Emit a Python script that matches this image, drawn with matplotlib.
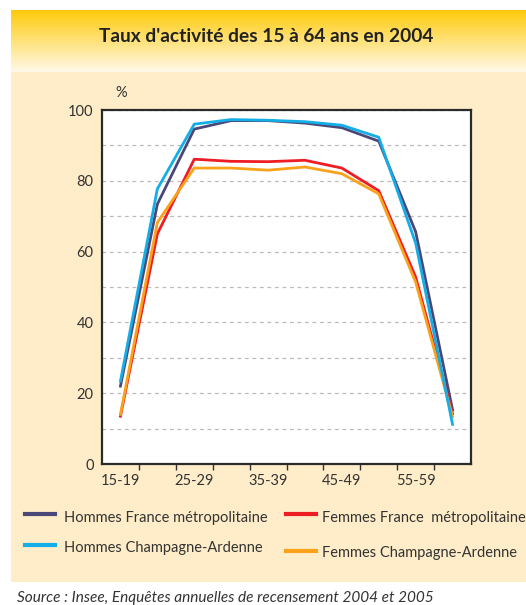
import numpy as np
import matplotlib
matplotlib.use("Agg")
import matplotlib.pyplot as plt
from matplotlib.colors import LinearSegmentedColormap

# ---- data ----
categories = ["15-19", "20-24", "25-29", "30-34", "35-39",
              "40-44", "45-49", "50-54", "55-59", "60-64"]
hommes_france = [22.0, 73.4, 94.6, 97.0, 97.0, 96.3, 95.0, 91.2, 65.6, 15.3]
hommes_ca = [23.4, 77.7, 96.0, 97.3, 97.1, 96.7, 95.7, 92.3, 62.4, 11.2]
femmes_france = [13.5, 65.0, 86.1, 85.5, 85.4, 85.8, 83.6, 77.2, 52.8, 14.2]
femmes_ca = [14.0, 68.2, 83.6, 83.6, 83.0, 83.9, 82.0, 76.3, 51.4, 13.4]
series_labels = ["Hommes France métropolitaine", "Femmes France  métropolitaine",
                 "Hommes Champagne-Ardenne", "Femmes Champagne-Ardenne"]
title = "Taux d'activité des 15 à 64 ans en 2004"
source = "Source : Insee, Enquêtes annuelles de recensement 2004 et 2005"

C_HF = "#4a4879"
C_HC = "#14aee6"
C_FF = "#ee1c25"
C_FC = "#f9a21b"
TXT = "#333333"
CREAM = "#feedc8"

W, H = 526, 605
fig = plt.figure(figsize=(W / 100, H / 100), dpi=100)
fig.patch.set_facecolor("white")

def fx(px):
    return px / W

def fy(py):
    return 1 - py / H

# cream panel
bg = fig.add_axes([fx(11), fy(582), fx(526 - 11), (582 - 10) / H])
bg.set_facecolor(CREAM)
bg.set_xticks([]); bg.set_yticks([])
for s in bg.spines.values():
    s.set_visible(False)

# gradient title band
gax = fig.add_axes([fx(11), fy(72), fx(526 - 11), (72 - 10) / H])
cmap = LinearSegmentedColormap.from_list("g", ["#ffca0a", "#ffe27a", "#fff8ea"])
grad = np.linspace(0, 1, 256).reshape(-1, 1)
gax.imshow(grad, aspect="auto", cmap=cmap, extent=[0, 1, 0, 1], origin="upper")
gax.set_axis_off()
fig.text(fx(266), fy(36), title, ha="center", va="center",
         fontsize=13.8, fontweight="bold", color="#222222", family="Lato")

# main axes
ax = fig.add_axes([fx(102), fy(464), fx(471 - 102), (464 - 110) / H])
ax.set_facecolor("white")
x = np.arange(len(categories))
ax.plot(x, hommes_france, color=C_HF, lw=2.0, zorder=3)
ax.plot(x, femmes_france, color=C_FF, lw=2.0, zorder=3)
ax.plot(x, femmes_ca, color=C_FC, lw=2.0, zorder=3)
ax.plot(x, hommes_ca, color=C_HC, lw=2.0, zorder=4)

ax.set_xlim(-0.5, len(categories) - 0.5)
ax.set_ylim(0, 100)
ax.set_yticks(np.arange(0, 101, 20))
ax.set_yticks(np.arange(10, 100, 10), minor=True)
ax.yaxis.grid(True, which="both", linestyle=(0, (3, 3)), color="#bbbbbb", lw=0.9)
ax.set_axisbelow(True)
ax.tick_params(axis="y", which="both", length=0, pad=6, labelsize=10.5,
               labelcolor=TXT)
ax.set_xticks(np.arange(0.5, len(categories) - 1, 1))
ax.set_xticklabels([])
ax.set_xticks(np.arange(0, len(categories), 2), minor=True)
ax.set_xticklabels(categories[::2], minor=True)
ax.tick_params(axis="x", which="major", length=4, width=1, color=TXT, direction="out")
ax.tick_params(axis="x", which="minor", length=0, pad=7, labelsize=10.5,
               labelcolor=TXT)
for lab in ax.get_xticklabels(minor=True) + ax.get_yticklabels():
    lab.set_family("Lato")
for s in ax.spines.values():
    s.set_color("#2b2b2b")
    s.set_linewidth(1.6)
fig.text(fx(121), fy(93), "%", fontsize=10.5, color=TXT,
         ha="center", va="center", family="Lato")

# legend (manual)
legend_items = [
    (C_HF, 25, 514, 64, 518, series_labels[0]),
    (C_FF, 286, 514, 322, 518, series_labels[1]),
    (C_HC, 25, 545, 64, 548, series_labels[2]),
    (C_FC, 286, 551, 322, 553, series_labels[3]),
]
for col, lx, ly, tx, ty, lab in legend_items:
    fig.add_artist(plt.Line2D([fx(lx), fx(lx + 30)], [fy(ly), fy(ly)],
                              color=col, lw=3, transform=fig.transFigure))
    fig.text(fx(tx), fy(ty), lab, ha="left", va="center", fontsize=10.5,
             color=TXT, family="Lato")

fig.text(fx(17), fy(598), source, ha="left", va="center", fontsize=11.1,
         style="italic", color=TXT, family="Lato")

fig.savefig("out.png", dpi=100, facecolor="white")
